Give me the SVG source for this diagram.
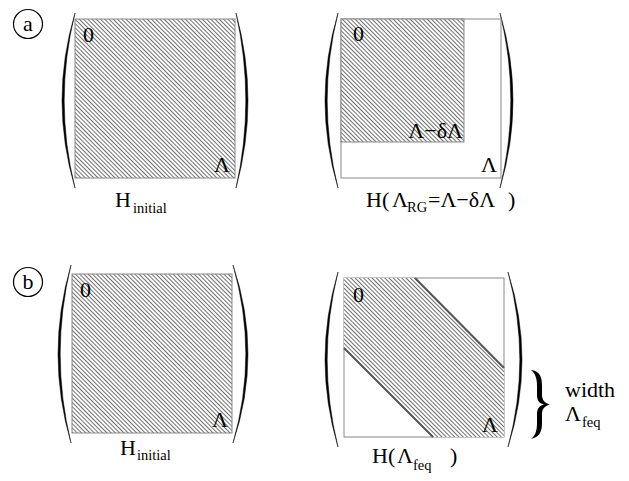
<svg xmlns="http://www.w3.org/2000/svg" width="629" height="481" viewBox="0 0 629 481">
<style>
.t{font-family:"Liberation Serif","Times New Roman",serif;font-size:22px;fill:#000}
.s{font-family:"Liberation Serif","Times New Roman",serif;font-size:14.5px;fill:#000}
.box{fill:none;stroke:#888;stroke-width:1}
.hat{fill:url(#hatch);stroke:#888;stroke-width:1}
.par{fill:#000;stroke:#000;stroke-width:0.5}
.lbl{fill:none;stroke:#000;stroke-width:1.2}
.band{stroke:#555;stroke-width:2;fill:none}
</style>
<defs>
<pattern id="hatch" patternUnits="userSpaceOnUse" width="3" height="10" patternTransform="rotate(-45)">
<rect width="3" height="10" fill="#fff"/>
<line x1="0.5" y1="0" x2="0.5" y2="10" stroke="#555" stroke-width="0.85"/>
</pattern>
</defs>

<g id="label-a">
<circle class="lbl" cx="28" cy="24" r="14.5"/>
<text class="t" x="28" y="31" text-anchor="middle">a</text>
</g>
<g id="label-b">
<circle class="lbl" cx="28" cy="282" r="14.5"/>
<text class="t" x="28" y="289" text-anchor="middle">b</text>
</g>

<g id="a-initial">
<path class="par" d="M75,13 Q49,100.5 75,188 Q53.4,100.5 75,13 Z"/>
<path class="par" d="M236,13 Q260,100.5 236,188 Q255.6,100.5 236,13 Z"/>
<rect class="hat" x="75" y="19" width="160" height="159"/>
<text class="t" x="83" y="42">0</text>
<text class="t" x="214" y="172">Λ</text>
<text class="t" x="115" y="207">H</text>
<text class="s" x="133" y="213">initial</text>
</g>

<g id="a-rg">
<path class="par" d="M338,13 Q312,100.5 338,188 Q316.4,100.5 338,13 Z"/>
<path class="par" d="M500,13 Q526,100.5 500,188 Q521.6,100.5 500,13 Z"/>
<rect class="box" x="341" y="19" width="160" height="159"/>
<rect class="hat" x="341" y="19" width="123" height="123"/>
<text class="t" x="353" y="41">0</text>
<text class="t" x="463" y="138" text-anchor="end">Λ−δΛ</text>
<text class="t" x="481" y="172">Λ</text>
<text class="t" x="366" y="207">H(</text>
<text class="t" x="392" y="207">Λ</text>
<text class="s" x="407" y="212">RG</text>
<text class="t" x="428" y="207">=Λ−δΛ</text>
<text class="t" x="508" y="207">)</text>
</g>

<g id="b-initial">
<path class="par" d="M71,265 Q45,354 71,443 Q49.4,354 71,265 Z"/>
<path class="par" d="M233,265 Q263,354 233,443 Q258.6,354 233,265 Z"/>
<rect class="hat" x="72" y="274" width="160" height="159"/>
<text class="t" x="80" y="297">0</text>
<text class="t" x="212" y="427">Λ</text>
<text class="t" x="120" y="455">H</text>
<text class="s" x="137" y="460">initial</text>
</g>

<g id="b-feq">
<path class="par" d="M338,272 Q312,359.5 338,447 Q316.4,359.5 338,272 Z"/>
<path class="par" d="M508,272 Q536,359.5 508,447 Q531.6,359.5 508,272 Z"/>
<rect class="box" x="344" y="278" width="160" height="159"/>
<polygon points="344,278 415,278 504,368 504,437 433,437 344,348" fill="url(#hatch)" stroke="none"/>
<line class="band" x1="415" y1="278" x2="504" y2="368"/>
<line class="band" x1="344" y1="348" x2="433" y2="437"/>
<text class="t" x="353" y="302">0</text>
<text class="t" x="482" y="432">Λ</text>
<text class="t" x="372" y="463">H(</text>
<text class="t" x="397" y="463">Λ</text>
<text class="s" x="413" y="470">feq</text>
<text class="t" x="450" y="463">)</text>
</g>

<g id="width-brace">
<path d="M531,370 C540,371 542,377 542,386 L542,395 C542,400 545,403.5 550,404.5 C545,405.5 542,409 542,414 L542,423 C542,431 540,437 531,439 C535,436 537,431 537,423 L537,414 C537,408 540,405.5 544,404.5 C540,403.5 537,401 537,395 L537,386 C537,378 535,373 531,370 Z" fill="#000"/>
<text class="t" x="565" y="397">width</text>
<text class="t" x="565" y="421">Λ</text>
<text class="s" x="582" y="427">feq</text>
</g>
</svg>
